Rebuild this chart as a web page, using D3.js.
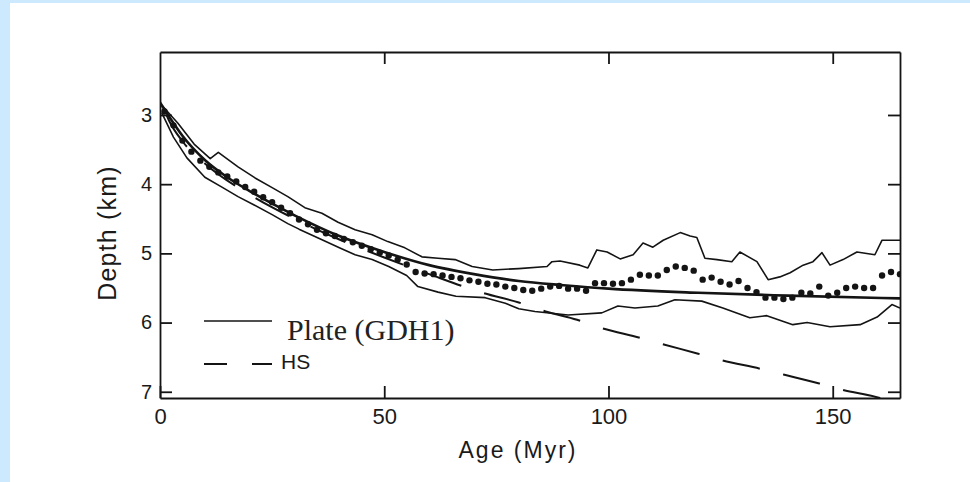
<!DOCTYPE html>
<html>
<head>
<meta charset="utf-8">
<script src="https://d3js.org/d3.v7.min.js"></script>
<style>
body { margin: 0; background: #cde9fd; }
svg { display: block; }
.envelope { fill: none; stroke: #141414; stroke-width: 1.6px; stroke-linejoin: round; }
.plate { fill: none; stroke: #141414; stroke-width: 2.6px; }
.hs { fill: none; stroke: #141414; stroke-width: 2px; }
.axis path, .axis line { stroke: #141414; stroke-width: 1.8px; }
.axis text { fill: #1a1a1a; }
</style>
</head>
<body>
<svg width="970" height="482"></svg>
<script>

// observed median depth (dots), every 2 Myr
var ages = [1, 3, 5, 7, 9, 11, 13, 15, 17, 19, 21, 23, 25, 27, 29, 31, 33, 35, 37, 39,
    41, 43, 45, 47, 49, 51, 53, 55, 57, 59, 61, 63, 65, 67, 69, 71, 73, 75, 77, 79,
    81, 83, 85, 87, 89, 91, 93, 95, 97, 99, 101, 103, 105, 107, 109, 111, 113, 115, 117, 119,
    121, 123, 125, 127, 129, 131, 133, 135, 137, 139, 141, 143, 145, 147, 149, 151, 153, 155, 157, 159,
    161, 163, 165];
var depths = [2.95, 3.15, 3.37, 3.53, 3.66, 3.75, 3.83, 3.89, 3.96, 4.04, 4.11, 4.19, 4.26, 4.34, 4.42, 4.51, 4.58, 4.66, 4.71, 4.75,
    4.79, 4.84, 4.89, 4.94, 4.99, 5.03, 5.09, 5.16, 5.27, 5.29, 5.30, 5.32, 5.34, 5.36, 5.39, 5.41, 5.44, 5.45, 5.48, 5.50,
    5.53, 5.54, 5.51, 5.48, 5.47, 5.51, 5.51, 5.54, 5.43, 5.43, 5.44, 5.43, 5.38, 5.31, 5.32, 5.32, 5.24, 5.19, 5.21, 5.25,
    5.38, 5.35, 5.41, 5.45, 5.40, 5.50, 5.56, 5.64, 5.64, 5.66, 5.64, 5.57, 5.58, 5.48, 5.61, 5.57, 5.50, 5.48, 5.50, 5.50,
    5.32, 5.27, 5.30];

// one standard deviation envelope [age, depth]
var upperEnv = [[0.4, 2.86], [4, 3.12], [7.6, 3.42], [11.2, 3.63], [13, 3.54], [17.4, 3.75], [21.2, 3.91],
    [25, 4.05], [28.5, 4.18], [32.3, 4.34], [36.1, 4.42], [39.7, 4.55], [43.5, 4.66], [47.3, 4.73], [50.8, 4.83],
    [54.6, 4.92], [58.4, 5.05], [62, 5.07], [65.8, 5.09], [69.6, 5.19], [74.2, 5.24], [80, 5.22], [86.3, 5.19],
    [87.4, 5.12], [89.2, 5.11], [93.6, 5.17], [95.4, 5.21], [97.4, 4.95], [99.7, 4.98], [102.6, 5.08], [105.5, 5.02],
    [107.7, 4.85], [109.9, 4.91], [112.2, 4.81], [116, 4.70], [118.2, 4.75], [119.7, 4.77], [121.5, 5.07], [124.2, 5.09],
    [127.5, 5.12], [129.3, 4.98], [133.1, 5.12], [135.6, 5.38], [138.2, 5.34], [140.5, 5.28], [143.4, 5.17], [145.6, 5.12],
    [147.6, 4.99], [149.4, 5.17], [152.3, 5.09], [155.4, 4.98], [159.4, 5.02], [161, 4.81], [165, 4.81]];
var lowerEnv = [[0.4, 2.97], [3, 3.32], [6, 3.62], [10, 3.90], [14, 4.05], [17.4, 4.18], [21, 4.30], [25, 4.44],
    [28.5, 4.57], [31, 4.65], [36, 4.80], [40, 4.92], [43.5, 5.02], [47.3, 5.09], [51, 5.19], [55, 5.32], [57.5, 5.48],
    [62, 5.56], [66, 5.62], [72.5, 5.64], [77, 5.72], [80, 5.80], [83.6, 5.84], [91, 5.89], [98.5, 5.86], [102.1, 5.76],
    [105.9, 5.79], [111, 5.76], [114.8, 5.67], [120.8, 5.69], [125.5, 5.79], [131.5, 5.93], [135.3, 5.90], [141.1, 6.03],
    [144.3, 6.00], [149.4, 6.06], [156.1, 6.03], [159.9, 5.92], [163.2, 5.74], [165, 5.79]];

// model curves [age, depth]
var plateModel = [[0, 2.82], [2, 3.02], [5, 3.3], [10, 3.65], [15, 3.9], [20, 4.1], [30, 4.45], [40, 4.75],
    [50, 4.98], [60, 5.17], [70, 5.3], [80, 5.4], [90, 5.46], [100, 5.51], [120, 5.57], [140, 5.61], [165, 5.65]];
var hsModel = [[0.5, 2.85], [2, 3.08], [5, 3.38], [10, 3.7], [20, 4.15], [30, 4.5], [40, 4.8], [50, 5.06],
    [60, 5.3], [72, 5.57], [80, 5.71], [86, 5.84], [93, 5.96], [98, 6.07], [107, 6.22], [112, 6.31], [120, 6.45],
    [125, 6.54], [134, 6.67], [139, 6.75], [147, 6.88], [152, 6.97], [160.5, 7.09], [163, 7.14]];
var hsDashStart = 152.3;   // age where one of the dashes begins

var xTicks = [0, 50, 100, 150];
var xTopTicks = [50, 100, 150];
var yTicks = [3, 4, 5, 6, 7];

var svg = d3.select("svg");
var plotLeft = 160, plotRight = 900, plotTop = 52, plotBottom = 398;

// page border
svg.append("rect")
    .attr("x", 10).attr("y", 3)
    .attr("width", 960).attr("height", 479)
    .attr("fill", "white");

var x = d3.scaleLinear().domain([0, 165]).range([plotLeft, plotRight]);
var y = d3.scaleLinear().domain([2.09, 7.09]).range([plotTop, plotBottom]);

svg.append("clipPath").attr("id", "plotclip")
    .append("rect")
    .attr("x", plotLeft).attr("y", plotTop)
    .attr("width", plotRight - plotLeft).attr("height", plotBottom - plotTop);

// Axes, ticks pointing inward
svg.append("g")
    .attr("class", "axis")
    .attr("transform", "translate(0," + plotBottom + ")")
    .call(d3.axisBottom(x).tickValues(xTicks).tickSizeInner(-12).tickSizeOuter(0).tickPadding(10))
    .attr("font-family", "'Liberation Sans', Arial, sans-serif")
    .attr("font-size", 22);

svg.append("g")
    .attr("class", "axis")
    .attr("transform", "translate(0," + plotTop + ")")
    .call(d3.axisTop(x).tickValues(xTopTicks).tickSizeInner(-12).tickSizeOuter(0).tickFormat(""));

svg.append("g")
    .attr("class", "axis")
    .attr("transform", "translate(" + plotLeft + ",0)")
    .call(d3.axisLeft(y).tickValues(yTicks).tickFormat(d3.format("d"))
        .tickSizeInner(-12).tickSizeOuter(0).tickPadding(8))
    .attr("font-family", "'Liberation Sans', Arial, sans-serif")
    .attr("font-size", 20);

svg.append("g")
    .attr("class", "axis")
    .attr("transform", "translate(" + plotRight + ",0)")
    .call(d3.axisRight(y).tickValues(yTicks).tickSizeInner(-12).tickSizeOuter(0).tickFormat(""));

// Axis titles
svg.append("text")
    .attr("x", (plotLeft + plotRight) / 2 - 12)
    .attr("y", 458)
    .attr("text-anchor", "middle")
    .style("font-family", "'Liberation Sans', Arial, sans-serif")
    .style("font-size", "23px")
    .style("letter-spacing", "2px")
    .style("fill", "#1a1a1a")
    .text("Age (Myr)");

svg.append("text")
    .attr("transform", "translate(116,233) rotate(-90)")
    .attr("text-anchor", "middle")
    .style("font-family", "'Liberation Sans', Arial, sans-serif")
    .style("font-size", "25px")
    .style("letter-spacing", "1.2px")
    .style("fill", "#1a1a1a")
    .text("Depth (km)");

var line = d3.line()
    .x(function(d) { return x(d[0]); })
    .y(function(d) { return y(d[1]); });
var smooth = d3.line()
    .x(function(d) { return x(d[0]); })
    .y(function(d) { return y(d[1]); })
    .curve(d3.curveMonotoneX);

var plot = svg.append("g").attr("clip-path", "url(#plotclip)");

// Envelopes
plot.append("path").attr("class", "envelope").attr("d", line(upperEnv));
plot.append("path").attr("class", "envelope").attr("d", line(lowerEnv));

// Half-space model, dashed
var period = [38, 24];
var hs = plot.append("path")
    .attr("class", "hs")
    .attr("d", smooth(hsModel))
    .style("stroke-dasharray", period.join(","));
var node = hs.node();
var lo = 0, hi = node.getTotalLength();
for (var i = 0; i < 40; i++) {
    var mid = (lo + hi) / 2;
    if (node.getPointAtLength(mid).x < x(hsDashStart)) lo = mid; else hi = mid;
}
var p = period[0] + period[1];
hs.style("stroke-dashoffset", p - (lo % p));

// Plate model
plot.append("path").attr("class", "plate").attr("d", smooth(plateModel));

// Data
plot.append("g")
    .selectAll("circle")
    .data(ages)
    .enter().append("circle")
    .attr("cx", function(d) { return x(d); })
    .attr("cy", function(d, i) { return y(depths[i]); })
    .attr("r", 3.2)
    .attr("fill", "#141414");

// Legend
svg.append("line")
    .attr("x1", 204).attr("x2", 272)
    .attr("y1", 321).attr("y2", 321)
    .style("stroke", "#141414").style("stroke-width", "1.6px");
svg.append("text")
    .attr("x", 287).attr("y", 340)
    .style("font-family", "'Liberation Serif', 'Times New Roman', serif")
    .style("font-size", "30px")
    .style("fill", "#222")
    .text("Plate (GDH1)");

svg.append("line")
    .attr("x1", 204).attr("x2", 272)
    .attr("y1", 364).attr("y2", 364)
    .style("stroke", "#141414").style("stroke-width", "2px")
    .style("stroke-dasharray", "23,25");
svg.append("text")
    .attr("x", 281).attr("y", 369)
    .style("font-family", "'Liberation Sans', Arial, sans-serif")
    .style("font-size", "21px")
    .style("fill", "#1a1a1a")
    .text("HS");

</script>
</body>
</html>
